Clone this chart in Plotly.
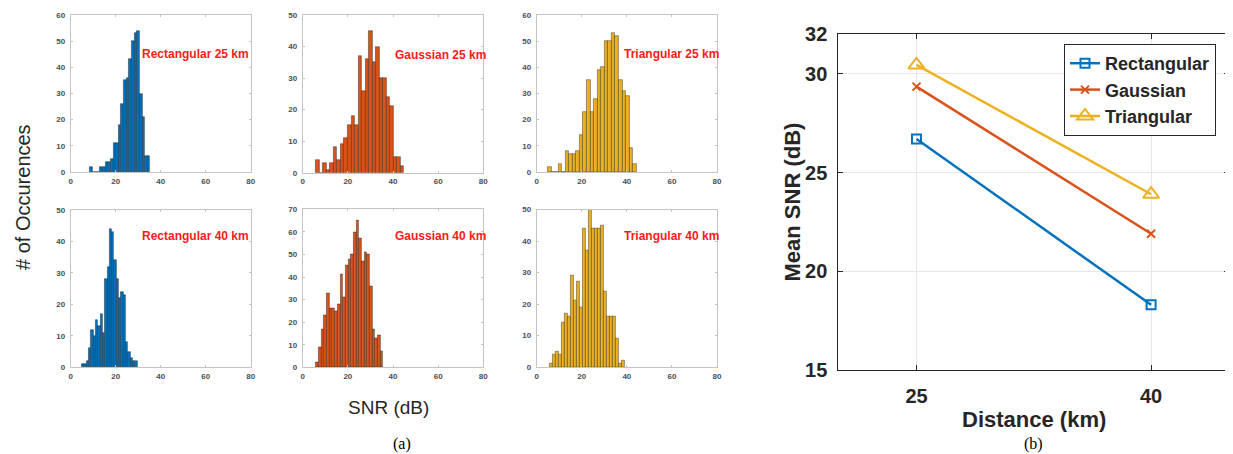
import plotly.graph_objects as go
import numpy as np

# page body has an 8px margin: figure is drawn from (8, 8) of the window
OFF = 8
W, H = 1233 - OFF, 454 - OFF

# ---------------- data: histograms (bin start, bin width, counts) ----------------
hist_labels = ["Rectangular 25 km", "Gaussian 25 km", "Triangular 25 km",
               "Rectangular 40 km", "Gaussian 40 km", "Triangular 40 km"]
hist_start = [8.4, 5.9, 4.87, 4.9, 5.9, 5.6]
hist_width = [1.17, 1.56, 1.575, 1.03, 1.19, 1.34]
rect25 = [2, 0, 0, 0, 2, 2, 4, 4, 5, 11, 11, 18, 26, 35, 36, 43, 50, 53, 54, 30, 21, 6, 6]
gauss25 = [4, 0, 3, 1, 3, 8, 4, 9, 11, 15, 18, 15, 37, 26, 36, 45, 35, 40, 30, 30, 24, 21, 5, 5, 2]
tri25 = [2, 0, 0, 3, 0, 8, 7, 7, 8, 14, 23, 35, 23, 28, 39, 40, 50, 50, 53, 52, 35, 31, 29, 9, 3]
rect40 = [1, 1, 2, 6, 12, 10, 15, 13, 17, 11, 28, 32, 44, 43, 34, 28, 22, 24, 23, 8, 5, 3, 2, 2]
gauss40 = [2, 9, 17, 23, 33, 26, 26, 25, 28, 41, 31, 45, 48, 50, 60, 65, 57, 47, 51, 50, 36, 17, 13, 14, 7]
tri40 = [1, 4, 5, 4, 14, 17, 16, 29, 21, 27, 19, 44, 37, 50, 44, 44, 44, 45, 24, 16, 16, 16, 9, 1, 2]
hist_counts = [rect25, gauss25, tri25, rect40, gauss40, tri40]
hist_ymax = [60, 50, 60, 50, 70, 50]
hist_xticks = [0, 20, 40, 60, 80]
# label anchor in data units (x, y)
label_pos = [(30.8, 45.1), (40.1, 37.3), (37.7, 45.0), (30.8, 41.7), (40.1, 58.2), (37.7, 41.7)]

# ---------------- data: mean SNR vs distance ----------------
distance = [25, 40]
mean_rect = [26.7, 18.3]
mean_gauss = [29.35, 21.9]
mean_tri = [30.45, 23.9]
series_names = ["Rectangular", "Gaussian", "Triangular"]

blue, orange, yellow = "#0072BD", "#D95319", "#EDB120"
hist_colors = [blue, orange, yellow, blue, orange, yellow]

# panel pixel boxes in window pixels (left, right, top, bottom)
boxes = [(70.7, 250.7, 15, 172), (302.7, 483.3, 15, 172.7), (536.7, 717, 15, 172),
         (70.7, 250.7, 210, 367.3), (302.7, 483.3, 209.3, 367.3), (536.7, 717, 209.5, 367)]
right_box = (838.3, 1229.3, 34.3, 370)


def px(x):
    return (x - OFF) / W


def py(y):
    return 1 - (y - OFF) / H


def xd(l, r):
    return [px(l), min(1.0, px(r))]


def yd(t, b):
    return [py(b), py(t)]


fig = go.Figure()
layout = dict(width=W, height=H, margin=dict(l=0, r=0, t=0, b=0, autoexpand=False),
              paper_bgcolor="white", plot_bgcolor="white", showlegend=True)
annotations = []
SANS = "Liberation Sans, Arial, sans-serif"

for i in range(6):
    n = i + 1
    xa = "x" if n == 1 else f"x{n}"
    ya = "y" if n == 1 else f"y{n}"
    counts = hist_counts[i]
    centers = hist_start[i] + hist_width[i] * (np.arange(len(counts)) + 0.5)
    fig.add_trace(go.Bar(x=centers, y=counts, width=hist_width[i], xaxis=xa, yaxis=ya,
                         marker=dict(color=hist_colors[i], line=dict(color="rgba(30,30,30,0.7)", width=0.6)),
                         showlegend=False))
    l, r, t, b = boxes[i]
    axstyle = dict(showline=True, mirror="ticks", linecolor="#c4c4c4", linewidth=1, automargin=False,
                   ticks="inside", ticklen=2, tickcolor="#c4c4c4", showgrid=False, zeroline=False,
                   tickfont=dict(family=SANS, size=8, color="#4d4d4d", weight="bold"))
    layout["xaxis" if n == 1 else f"xaxis{n}"] = dict(
        domain=xd(l, r), range=[0, 80], anchor=ya, tickvals=hist_xticks, ticklabelstandoff=1, **axstyle)
    layout["yaxis" if n == 1 else f"yaxis{n}"] = dict(
        domain=yd(t, b), range=[0, hist_ymax[i]], anchor=xa, dtick=10, ticklabelstandoff=3, **axstyle)
    annotations.append(dict(x=label_pos[i][0], y=label_pos[i][1], xref=xa, yref=ya, text=hist_labels[i],
                            showarrow=False, xanchor="left", yanchor="middle",
                            font=dict(family=SANS, size=12, color="#ff1a1a", weight="bold")))

# right panel
markers = [dict(symbol="square-open", size=9),
           dict(symbol="x-thin", size=8),
           dict(symbol="triangle-up-open", size=14)]
for vals, name, col, mk in zip([mean_rect, mean_gauss, mean_tri], series_names, [blue, orange, yellow], markers):
    mk = dict(mk)
    mk["color"] = col
    mk["line"] = dict(width=2, color=col)
    fig.add_trace(go.Scatter(x=distance, y=vals, name=name, mode="lines+markers", xaxis="x7", yaxis="y7",
                             line=dict(color=col, width=2.5), marker=mk))

l, r, t, b = right_box
rstyle = dict(showline=True, mirror="ticks", linecolor="#262626", linewidth=1, ticks="inside", ticklen=5,
              tickcolor="#262626", showgrid=True, gridcolor="#e6e6e6", zeroline=False, automargin=False,
              tickfont=dict(family=SANS, size=20, color="#262626", weight="bold"))
layout["xaxis7"] = dict(domain=xd(l, r), range=[20, 45], anchor="y7", tickvals=[25, 40], ticklabelstandoff=8, **rstyle)
layout["yaxis7"] = dict(domain=yd(t, b), range=[15, 32], anchor="x7", tickvals=[15, 20, 25, 30, 32],
                        ticklabelstandoff=6, **rstyle)

layout["legend"] = dict(x=px(1064), y=py(44), xanchor="left", yanchor="top", bgcolor="white",
                        bordercolor="#262626", borderwidth=1, tracegroupgap=0,
                        font=dict(family=SANS, size=18, color="#262626", weight="bold"))


def note(x, y, text, font, angle=0):
    return dict(x=px(x), y=py(y), text=text, textangle=angle, showarrow=False, xref="paper", yref="paper",
                xanchor="center", yanchor="middle", font=font)


serif = dict(family="Liberation Serif, Times New Roman, serif", size=16, color="black")
annotations += [
    note(23, 197, "# of Occurences", dict(family=SANS, size=20, color="#262626"), -90),
    note(388, 407, "SNR (dB)", dict(family=SANS, size=19, color="#262626")),
    note(401.7, 444, "(a)", serif),
    note(1033, 444, "(b)", serif),
    note(792, 202.5, "Mean SNR (dB)", dict(family=SANS, size=22, color="#262626", weight="bold"), -90),
    note(1034, 419, "Distance (km)", dict(family=SANS, size=22, color="#262626", weight="bold")),
]
layout["annotations"] = annotations
layout["bargap"] = 0
fig.update_layout(**layout)
fig.write_html("out.html")
